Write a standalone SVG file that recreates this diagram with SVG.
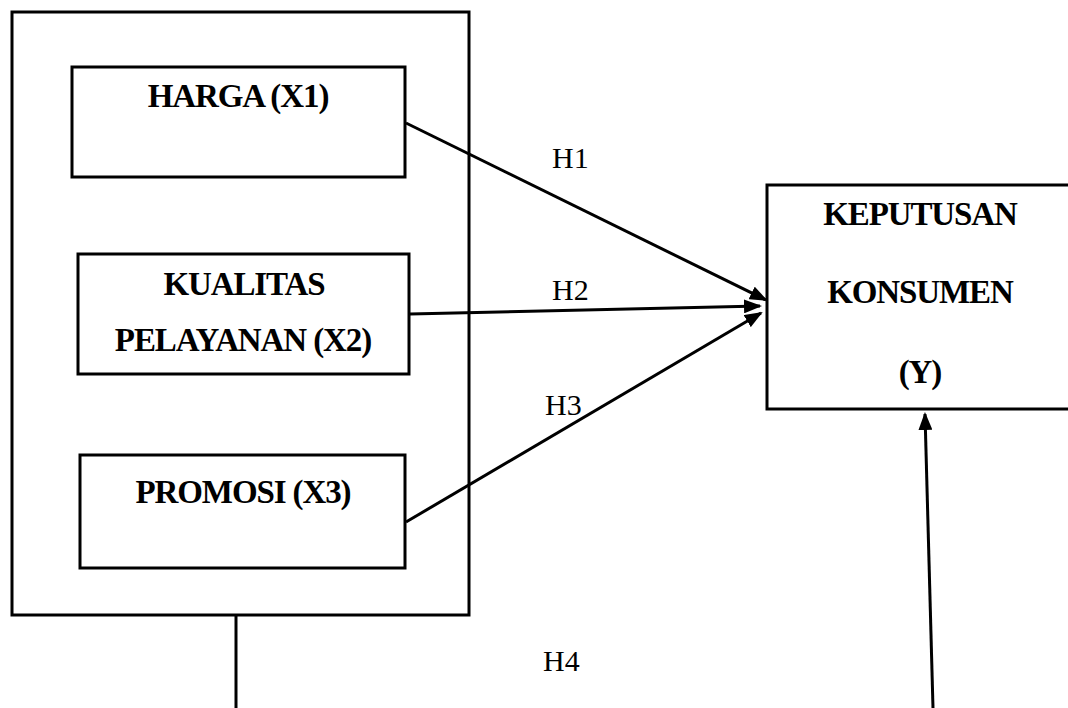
<svg xmlns="http://www.w3.org/2000/svg" width="1068" height="708" viewBox="0 0 1068 708">
<style>
.box{fill:none;stroke:#000;stroke-width:3}
.lbl{font-family:"Liberation Serif","Times New Roman",serif;font-weight:bold;font-size:33px;text-anchor:middle;fill:#000;letter-spacing:-1.1px}
.h{font-family:"Liberation Serif","Times New Roman",serif;font-size:30px;fill:#000}
.con{stroke:#000;stroke-width:3;fill:none}
</style>
<defs>
<marker id="arr" markerUnits="userSpaceOnUse" markerWidth="18" markerHeight="14" refX="16" refY="7" orient="auto">
<path d="M0,0 L18,7 L0,14 z" fill="#000"/>
</marker>
</defs>
<rect width="1068" height="708" fill="#fff"/>
<g id="group-x">
<rect class="box" x="12" y="12" width="457" height="603"/>
</g>
<g id="harga">
<rect class="box" x="72" y="67" width="333" height="110"/>
<text class="lbl" x="238" y="107">HARGA (X1)</text>
</g>
<g id="kualitas">
<rect class="box" x="78" y="254" width="331" height="120"/>
<text class="lbl" x="244" y="295">KUALITAS</text>
<text class="lbl" x="243" y="351">PELAYANAN (X2)</text>
</g>
<g id="promosi">
<rect class="box" x="80" y="455" width="325" height="113"/>
<text class="lbl" x="243" y="503">PROMOSI (X3)</text>
</g>
<g id="keputusan">
<rect class="box" x="767" y="185" width="310" height="224"/>
<text class="lbl" x="920" y="225">KEPUTUSAN</text>
<text class="lbl" x="920" y="303">KONSUMEN</text>
<text class="lbl" x="920" y="383">(Y)</text>
</g>
<g id="connectors">
<line class="con" x1="406" y1="123" x2="766" y2="300" marker-end="url(#arr)"/>
<line class="con" x1="410" y1="314" x2="760" y2="306" marker-end="url(#arr)"/>
<line class="con" x1="406" y1="522" x2="761" y2="313" marker-end="url(#arr)"/>
<line class="con" x1="236" y1="615" x2="236" y2="708"/>
<line class="con" x1="933" y1="708" x2="925" y2="414" marker-end="url(#arr)"/>
<text class="h" x="552" y="168">H1</text>
<text class="h" x="552" y="300">H2</text>
<text class="h" x="545" y="415">H3</text>
<text class="h" x="543" y="671">H4</text>
</g>
</svg>
